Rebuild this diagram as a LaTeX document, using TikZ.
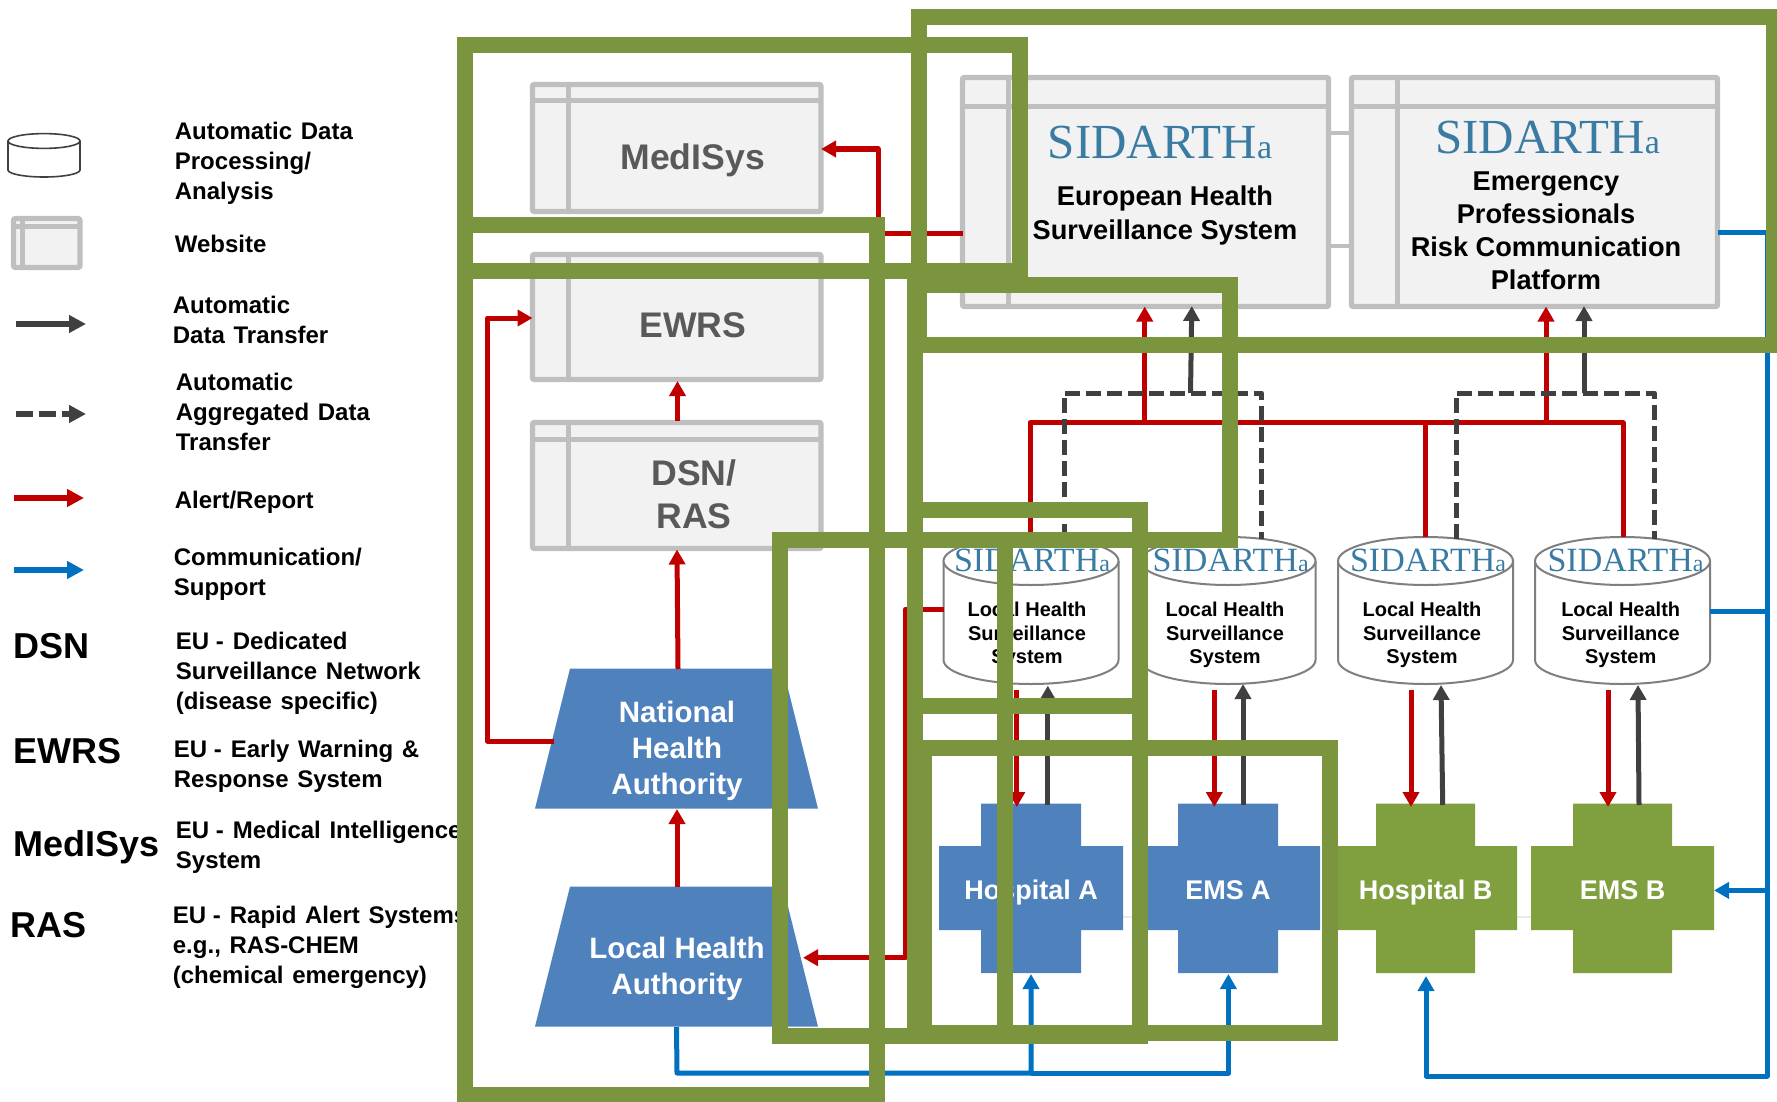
\documentclass[tikz,border=0pt]{standalone}
\usepackage{fontspec}
\setmainfont{Liberation Sans}
\newfontfamily\legfont{Liberation Sans}[WordSpace=1.3]
\newfontfamily\logofont{Liberation Serif}
\usetikzlibrary{arrows.meta,calc}
\definecolor{framegreen}{HTML}{7A953D}
\definecolor{crossgreen}{HTML}{80A040}
\definecolor{crossblue}{HTML}{4F81BD}
\definecolor{alertred}{HTML}{C00000}
\definecolor{commblue}{HTML}{0070C0}
\definecolor{datagrey}{HTML}{404040}
\definecolor{webline}{HTML}{BFBFBF}
\definecolor{webfill}{HTML}{F2F2F2}
\definecolor{webtext}{HTML}{595959}
\definecolor{cylline}{HTML}{7F7F7F}
\definecolor{logoblue}{HTML}{3A7BA3}
\tikzset{
  x=0.5pt,y=-0.5pt,
  greenframe/.style={draw=framegreen,line width=8pt,miter limit=10},
  headtip/.style={-{Triangle[length=7.5pt,width=8pt]}},
  alertline/.style={draw=alertred,line width=2.5pt,line join=round},
  alertarrow/.style={alertline,headtip},
  dataline/.style={draw=datagrey,line width=2.5pt,line join=round},
  dataarrow/.style={dataline,headtip},
  dataagg/.style={dataline,dash pattern=on 7.5pt off 3pt},
  commline/.style={draw=commblue,line width=2.5pt,line join=round},
  commarrow/.style={commline,headtip},
  winbox/.style={rectangle,draw=webline,fill=webfill,line width=2.7pt,rounded corners=1pt,inner sep=0pt,outer sep=0pt},
  winrule/.style={draw=webline,line width=2.5pt},
  wintext/.style={font=\fontsize{17.8}{21.5}\selectfont\bfseries,text=webtext,align=center,inner sep=0pt},
  sidtext/.style={font=\fontsize{13.6}{16.5}\selectfont\bfseries,text=black,align=center,inner sep=0pt},
  eurotextstyle/.style={font=\fontsize{13.6}{17}\selectfont\bfseries,text=black,align=center,inner sep=0pt},
  cyltext/.style={font=\fontsize{10}{11.8}\selectfont\bfseries,text=black,align=center,inner sep=0pt},
  authbox/.style={rectangle,inner sep=0pt,outer sep=0pt,minimum width=141.5pt,minimum height=70pt},
  authtext/.style={font=\fontsize{14.75}{18}\selectfont\bfseries,text=white,align=center,inner sep=0pt},
  crossbox/.style={rectangle,inner sep=0pt,outer sep=0pt,font=\fontsize{13.5}{16}\selectfont\bfseries,text=white,text height=10.5pt,text depth=0pt},
  cylbox/.style={rectangle,inner sep=0pt,outer sep=0pt,minimum width=87.5pt,minimum height=73.5pt},
  cylpath/.style={draw=cylline,fill=white,line width=1pt},
  biglogo/.style={font=\logofont\fontsize{24.5}{24.5}\selectfont,text=logoblue,inner sep=0pt},
  smalllogo/.style={font=\logofont\fontsize{17}{17}\selectfont,text=logoblue,inner sep=0pt},
  legtext/.style={font=\legfont\fontsize{12}{15}\selectfont\bfseries,text=black,align=left,anchor=west,inner sep=0pt},
  legbig/.style={font=\fontsize{18}{20}\selectfont\bfseries,text=black,anchor=base west,inner sep=0pt},
  faintlink/.style={draw=black!8,line width=1pt},
  sidlink/.style={draw=webline,line width=2pt},
}
\newcommand{\eudash}{EU\hspace{3.3pt}-\hspace{4.5pt}}
% name, x1, y1, x2, y2, rule x, rule y
\newcommand{\winnode}[7]{%
  \pgfmathsetmacro{\wnw}{(#4-#2)/2}\pgfmathsetmacro{\wnh}{(#5-#3)/2}%
  \node (#1) [winbox,minimum width=\wnw pt,minimum height=\wnh pt] at ({(#2+#4)/2},{(#3+#5)/2}) {};
  \draw[winrule] (#6,#3) -- (#6,#5);
  \draw[winrule] (#2,#7) -- (#4,#7);
}
% name, x1, x2, v1, v2, colour, text
\newcommand{\crossnode}[7]{%
  \fill[#6] (#4,803.5) -- (#5,803.5) -- (#5,846) -- (#3,846) -- (#3,930) -- (#5,930) -- (#5,973) -- (#4,973) -- (#4,930) -- (#2,930) -- (#2,846) -- (#4,846) -- cycle;
  \pgfmathsetmacro{\wnw}{(#3-#2)/2}%
  \node (#1) [crossbox,minimum width=\wnw pt,minimum height=84.75pt] at ({(#2+#3)/2},888.5) {#7};
}
% name, top y, bottom y
\newcommand{\authnode}[3]{%
  \fill[crossblue] (570,#2) -- (783,#2) -- (818,#3) -- (535,#3) -- cycle;
  \node (#1) [authbox] at (676.5,{(#2+#3)/2}) {};
}
% name, x centre, logo x, text x
\newcommand{\cylnode}[4]{%
  \node (#1) [cylbox] at (#2,610.5) {};
  \draw[cylpath] ($(#1.west)+(0,-49.5)$) -- ($(#1.west)+(0,49.5)$) arc[start angle=180,end angle=360,x radius=43.75pt,y radius=12pt] -- ($(#1.east)+(0,-49.5)$);
  \draw[cylpath] ($(#1.center)+(0,-49.5)$) ellipse[x radius=43.75pt,y radius=12pt];
  \node (#1logo) [smalllogo] at (#3,560) {SIDARTH{\fontsize{12}{12}\selectfont a}};
  \node (#1text) [cyltext] at (#4,635) {Local Health\\Surveillance\\System};
}
\begin{document}
\begin{tikzpicture}
\useasboundingbox (0,0) rectangle (1777,1102);

% ---- legend
\node (legdb) [legtext] at (174.5,163) {Automatic Data\\Processing/\\Analysis};
\node (legweb) [legtext] at (174.5,244) {Website};
\node (legauto) [legtext] at (172.5,320) {Automatic\\Data Transfer};
\node (legagg) [legtext] at (175.5,412) {Automatic\\Aggregated Data\\Transfer};
\node (legalert) [legtext] at (174.5,502) {Alert/Report};
\node (legcomm) [legtext] at (173.5,574) {Communication/\\Support};
\node (legdsn) [legtext] at (175.5,673) {\eudash Dedicated\\Surveillance Network\\(disease specific)};
\node (legewrs) [legtext] at (173.5,766) {\eudash Early Warning \&\\Response System};
\node (legmed) [legtext] at (175.5,847) {\eudash Medical Intelligence\\System};
\node (legras) [legtext] at (172.5,947) {\eudash Rapid Alert Systems\\e.g., RAS-CHEM\\(chemical emergency)};
\node (bigdsn) [legbig] at (13.5,658) {DSN};
\node (bigewrs) [legbig] at (13.5,763) {EWRS};
\node (bigmed) [legbig] at (13.5,856) {MedISys};
\node (bigras) [legbig] at (10.5,937) {RAS};
% legend icons
\draw[draw=datagrey,fill=white,line width=0.8pt] (8,141) -- (8,170) arc[start angle=180,end angle=360,x radius=18pt,y radius=3.5pt] -- (80,141);
\draw[draw=datagrey,fill=white,line width=0.8pt] (44,141) ellipse[x radius=18pt,y radius=3.7pt];
\draw[winbox,line width=2.6pt] (13.5,218.5) rectangle (80,267.5);
\draw[winrule] (22.5,218.5) -- (22.5,267.5);
\draw[winrule] (13.5,226) -- (80,226);
\coordinate (la1) at (16,324); \coordinate (la2) at (86,324);
\coordinate (lb1) at (16,414); \coordinate (lb2) at (86,414);
\coordinate (lc1) at (14,498); \coordinate (lc2) at (84,498);
\coordinate (ld1) at (14,570); \coordinate (ld2) at (84,570);
\draw[dataarrow,line width=3pt,-{Triangle[length=8.5pt,width=8.5pt]}] (la1) -- (la2);
\draw[dataagg,line width=3pt,-{Triangle[length=8.5pt,width=8.5pt]},dash pattern=on 8.5pt off 3pt] (lb1) -- (lb2);
\draw[alertarrow,line width=3pt,-{Triangle[length=8.5pt,width=8.5pt]}] (lc1) -- (lc2);
\draw[commarrow,line width=3pt,-{Triangle[length=8.5pt,width=8.5pt]}] (ld1) -- (ld2);

% ---- website boxes
\winnode{medisys}{532.5}{84.5}{821}{211.5}{568.6}{101}
\winnode{ewrs}{532.5}{254.5}{821}{379.5}{568.6}{271}
\winnode{dsnras}{532.5}{422.5}{821}{548.5}{568.6}{439}
\draw[sidlink] (1330,133) -- (1350,133);
\draw[sidlink] (1330,246) -- (1350,246);
\winnode{euro}{962.5}{77.5}{1328.5}{306.5}{1008}{107}
\winnode{emerg}{1351.5}{77.5}{1717.5}{306.5}{1397}{107}
\node (medtext) [wintext] at (692.6,160) {MedISys};
\node (ewrstext) [wintext] at (693,325) {EWRS};
\node (dsntext) [wintext] at (694,494) {DSN/\\RAS};
\node (eurologo) [biglogo] at (1160,142.5) {SIDARTH{\fontsize{17}{17}\selectfont a}};
\node (emerglogo) [biglogo] at (1547.6,138) {SIDARTH{\fontsize{17}{17}\selectfont a}};
\node (eurotext) [eurotextstyle] at (1165,215) {European Health\\Surveillance System};
\node (emergtext) [sidtext] at (1546,231) {Emergency\\Professionals\\Risk Communication\\Platform};

% ---- authorities
\authnode{national}{668.6}{808.7}
\authnode{localauth}{886.6}{1026.7}
\node (nattext) [authtext] at (677,750.5) {National\\Health\\Authority};
\node (loctext) [authtext] at (677,968.5) {Local Health\\Authority};

% ---- hospitals and EMS
\draw[faintlink] (1122,917) -- (1140,917);
\draw[faintlink] (1517,917) -- (1531,917);
\crossnode{hospa}{939}{1123}{981}{1081}{crossblue}{Hospital A}
\crossnode{emsa}{1136}{1320}{1178}{1278}{crossblue}{EMS A}
\crossnode{hospb}{1334}{1517}{1376}{1475}{crossgreen}{Hospital B}
\crossnode{emsb}{1531}{1714}{1573}{1672}{crossgreen}{EMS B}

% ---- local surveillance cylinders
\cylnode{cyla}{1031}{1032}{1027}
\cylnode{cylb}{1228}{1230.7}{1225}
\cylnode{cylc}{1425.5}{1428}{1422}
\cylnode{cyld}{1622.5}{1625.5}{1620.7}

% ---- alert connectors
\coordinate (rbus) at (1030,422.7);
\coordinate (rbusend) at (1623,422.7);
\draw[alertline] (cyla.north -| rbus) -- (rbus) -- (rbusend) -- (cyld.north -| rbusend);
\draw[alertline] (cylb.north) -- (cylb.north |- rbus);
\draw[alertline] (1425,537) -- (1425,422.7);
\draw[alertarrow] (1144.7,422.7) -- (euro.south -| 1144.7,0);
\draw[alertarrow] (1546,422.7) -- (emerg.south -| 1546,0);
\coordinate (rmed) at (878,233.5);
\draw[alertarrow] (euro.west |- rmed) -- (rmed) -- (878,149) -- (medisys.east |- 0,149);
\coordinate (rnat) at (487.5,741);
\draw[alertarrow] (554,741) -- (rnat) -- (487.5,318) -- (ewrs.west |- 0,318);
\draw[alertarrow] (677.5,421) -- (677.5,381);
\draw[alertarrow] (678,669) -- (677,549.5);
\draw[alertarrow] (677,887) -- (677,809);
\coordinate (rloc) at (905.4,609);
\draw[alertarrow] (cyla.west |- rloc) -- (rloc) -- (905.4,957.7) -- (803,957.7);
\draw[alertarrow] (1016.8,690) -- (1016.8,807);
\draw[alertarrow] (1214.3,690) -- (1214.3,807);
\draw[alertarrow] (1411,690) -- (1411,807);
\draw[alertarrow] (1608,690) -- (1608,807);

% ---- data connectors
\draw[dataagg] (1064,539) -- (1064,393) -- (1261.6,393) -- (1261.6,539);
\draw[dataagg] (1456,539) -- (1456,393) -- (1654.6,393) -- (1654.6,539);
\draw[dataarrow] (1190.5,393) -- (1191.8,306);
\draw[dataarrow] (1584,393) -- (1584,306);
\draw[dataarrow] (1047.8,805) -- (1047.8,685.6);
\draw[dataarrow] (1243,805) -- (1243,684);
\draw[dataarrow] (1442.7,805) -- (1441,685);
\draw[dataarrow] (1639,805) -- (1638,685);

% ---- communication connectors
\coordinate (bbus) at (1031,1073);
\draw[commarrow] (localauth.south |- 0,1027) -- (677,1073) -- (bbus) -- (1031,974);
\draw[commarrow] (bbus) -- (1228.4,1073) -- (1228.4,974);
\coordinate (bright) at (1767,232);
\draw[commarrow] (emerg.east |- bright) -- (bright) -- (1767,1076) -- (1426,1076) -- (1426,976);
\draw[commline] (cyld.east |- 0,611) -- (1767,611);
\draw[commarrow] (1767,890.4) -- (emsb.east |- 0,890.4);

% ---- green frames on top
\draw[greenframe] (465,45) rectangle (1020,271);
\draw[greenframe] (465,225) rectangle (876.5,1095);
\draw[greenframe] (918.5,17) rectangle (1774,345);
\draw[greenframe] (915,285) rectangle (1230,540);
\draw[greenframe] (780,540) rectangle (1005,1035.5);
\draw[greenframe] (915,510) rectangle (1140,1035.5);
\draw[greenframe] (915,705.5) rectangle (1140,1035.5);
\draw[greenframe] (924,748) rectangle (1330,1033);
\end{tikzpicture}
\end{document}
